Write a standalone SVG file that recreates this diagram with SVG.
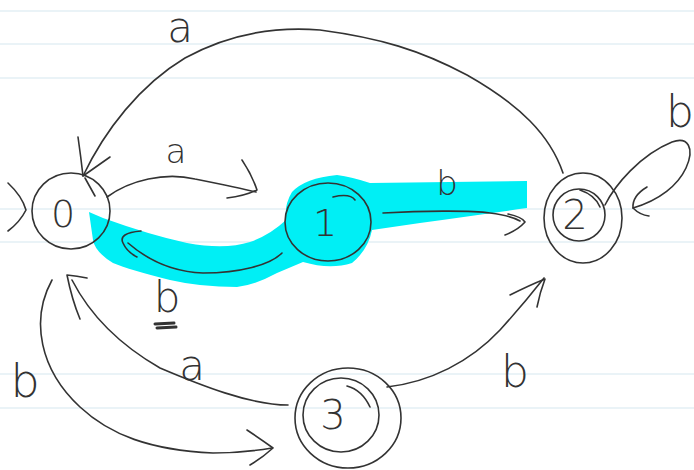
<svg xmlns="http://www.w3.org/2000/svg" width="694" height="470" viewBox="0 0 694 470">
<style>
.rule{stroke:#d5e7ef;stroke-width:1.2}
.ink{fill:none;stroke:#333;stroke-width:1.6;stroke-linecap:round;stroke-linejoin:round}
.lbl{font-family:"DejaVu Sans","Liberation Sans",sans-serif;font-weight:200;fill:#333;text-anchor:middle}
.hl{fill:#00eff5}
</style>
<rect width="694" height="470" fill="#fff"/>
<g id="paper">
<line class="rule" x1="0" y1="11" x2="694" y2="11"/>
<line class="rule" x1="0" y1="44" x2="694" y2="44"/>
<line class="rule" x1="0" y1="78" x2="694" y2="78"/>
<line class="rule" x1="0" y1="209" x2="694" y2="209"/>
<line class="rule" x1="0" y1="242" x2="694" y2="242"/>
<line class="rule" x1="0" y1="374" x2="694" y2="374"/>
<line class="rule" x1="0" y1="408" x2="694" y2="408"/>
</g>
<g id="highlight">
<path class="hl" d="M89,212 L103,218 Q150,235 187,243 Q225,250 250,242 Q270,235 286,220 Q284,205 292,192 Q305,178 337,175 Q352,177 370,183 L527,181 L527,208 Q470,216 420,223 L372,230 Q368,250 352,263 Q330,270 303,262 L277,273 Q255,285 237,287 Q200,287 170,280 Q130,270 113,263 Q95,252 93,240 Z"/>
</g>
<g id="connectors">
<path class="ink" d="M8,183 Q22,196 26,210 Q20,222 8,231"/>
<path class="ink" d="M563,173 C550,135 520,105 467,75 C420,50 380,38 320,30 C270,26 225,36 185,58 C140,85 105,130 83,176"/>
<path class="ink" d="M78,137 Q81,158 83,176 L110,157"/>
<path class="ink" d="M107,197 C130,180 165,172 195,179 C220,184 240,188 256,192"/>
<path class="ink" d="M242,160 Q252,175 257,190 Q245,196 227,198"/>
<path class="ink" d="M383,213 C420,211 470,210 490,213 C505,215 515,218 520,221"/>
<path class="ink" d="M508,214 Q522,217 525,222 Q518,230 505,235"/>
<path class="ink" d="M282,253 C270,265 240,273 203,273 C175,272 150,262 128,243"/>
<path class="ink" d="M141,231 Q118,233 123,243 Q127,252 137,257"/>
<path class="ink" d="M605,205 C615,185 640,155 672,142 C688,136 695,148 686,168 C678,185 660,200 633,208"/>
<path class="ink" d="M647,187 Q632,196 633,208 Q640,215 649,216"/>
<path class="ink" d="M387,387 C430,382 470,362 500,330 C520,308 533,292 544,278"/>
<path class="ink" d="M510,295 Q530,285 545,279 Q540,292 537,307"/>
<path class="ink" d="M288,405 C250,405 200,385 160,368 C120,345 90,315 72,280"/>
<path class="ink" d="M80,319 Q72,300 67,275 Q77,276 87,278"/>
<path class="ink" d="M52,280 C30,320 40,370 80,407 C110,435 150,450 213,453 C240,453 260,450 272,448"/>
<path class="ink" d="M247,430 Q262,440 273,448 Q262,458 250,465"/>
<path class="ink" style="stroke-width:3" d="M155,324 L174,323 M157,328 L176,327"/>
<text class="lbl" x="180" y="42" font-size="42">a</text>
<text class="lbl" x="176" y="163" font-size="34">a</text>
<text class="lbl" x="447" y="195" font-size="34">b</text>
<text class="lbl" x="167" y="312" font-size="42">b</text>
<text class="lbl" x="680" y="127" font-size="44">b</text>
<text class="lbl" x="515" y="387" font-size="44">b</text>
<text class="lbl" x="25" y="397" font-size="46">b</text>
<text class="lbl" x="192" y="380" font-size="42">a</text>
</g>
<g id="node0">
<ellipse class="ink" cx="71" cy="211" rx="39" ry="38"/>
<path class="ink" d="M85,178 L95,196"/>
<text class="lbl" x="63" y="227" font-size="38">0</text>
</g>
<g id="node1">
<ellipse class="ink" cx="328" cy="222" rx="43" ry="39"/>
<path class="ink" d="M333,197 Q350,193 355,200"/>
<text class="lbl" x="325" y="236" font-size="38">1</text>
</g>
<g id="node2">
<ellipse class="ink" cx="583" cy="218" rx="39" ry="45"/>
<circle class="ink" cx="579" cy="215" r="26"/>
<path class="ink" d="M580,190 Q595,195 600,207"/>
<text class="lbl" x="575" y="229" font-size="40">2</text>
</g>
<g id="node3">
<ellipse class="ink" cx="348" cy="418" rx="53" ry="50"/>
<ellipse class="ink" cx="341" cy="415" rx="38" ry="37"/>
<path class="ink" d="M347,386 Q362,390 370,407"/>
<text class="lbl" x="333" y="429" font-size="40">3</text>
</g>
</svg>
